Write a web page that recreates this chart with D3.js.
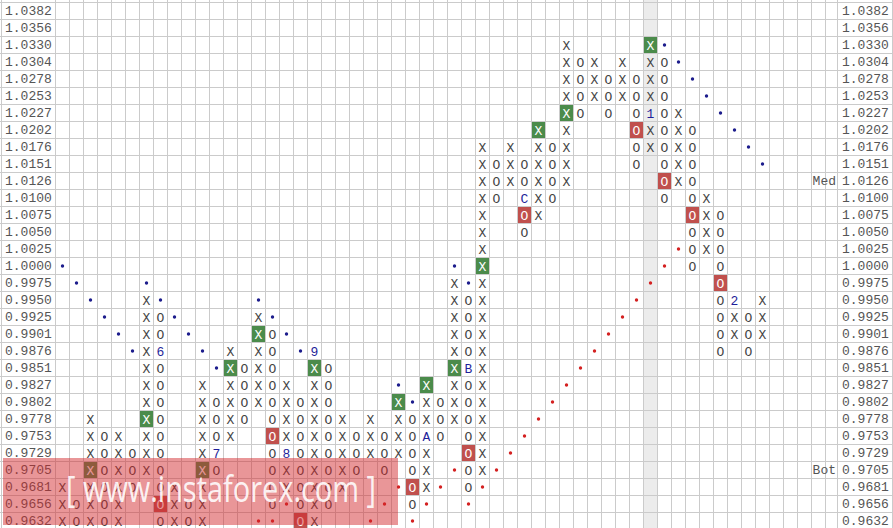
<!DOCTYPE html>
<html><head><meta charset="utf-8">
<script src="https://cdn.jsdelivr.net/npm/d3@7"></script>
<style>html,body{margin:0;padding:0;background:#fff;overflow:hidden}</style>
</head><body>
<svg id="c" width="893" height="528"></svg>
<script>
// ---- data ----
const priceLevels = ["1.0382","1.0356","1.0330","1.0304","1.0278","1.0253","1.0227","1.0202","1.0176","1.0151",
  "1.0126","1.0100","1.0075","1.0050","1.0025","1.0000","0.9975","0.9950","0.9925","0.9901",
  "0.9876","0.9851","0.9827","0.9802","0.9778","0.9753","0.9729","0.9705","0.9681","0.9656","0.9632"];
const colType = "XOXOXOXOXOXOXOXOXOXOXOXOXOXOXOXOXOXOXOXOXOXOXOXOXOX".split("");
const colHigh = ["0.9681","0.9656","0.9778","0.9753","0.9753","0.9729","0.9950","0.9925","0.9681","0.9656",
  "0.9827","0.9802","0.9876","0.9851","0.9925","0.9901","0.9827","0.9802","0.9876","0.9851",
  "0.9778","0.9753","0.9778","0.9753","0.9802","0.9778","0.9827","0.9802","0.9975","0.9950",
  "1.0176","1.0151","1.0176","1.0151","1.0202","1.0176","1.0330","1.0304","1.0304","1.0278",
  "1.0304","1.0278","1.0330","1.0304","1.0227","1.0202","1.0100","1.0075","0.9950","0.9925","0.9950"];
const colLow = ["0.9632","0.9632","0.9632","0.9632","0.9632","0.9681","0.9705","0.9632","0.9632","0.9632",
  "0.9632","0.9705","0.9753","0.9778","0.9802","0.9656","0.9681","0.9632","0.9632","0.9656",
  "0.9681","0.9705","0.9729","0.9705","0.9729","0.9656","0.9681","0.9753","0.9778","0.9681",
  "0.9705","1.0100","1.0126","1.0050","1.0075","1.0100","1.0126","1.0227","1.0253","1.0227",
  "1.0253","1.0151","1.0176","1.0100","1.0126","1.0000","1.0025","0.9876","0.9901","0.9876","0.9901"];
const monthLabels = ["6","7","8","9","A","B","C","1","2"];
const monthCols   = [7,11,16,18,26,29,33,42,48];
const monthPrices = ["0.9876","0.9729","0.9729","0.9876","0.9753","0.9851","1.0100","1.0227","0.9950"];
const buyCols   = [2,6,10,12,14,18,24,26,28,30,34,36,42];
const buyPrices = ["0.9705","0.9778","0.9705","0.9851","0.9901","0.9851","0.9802","0.9827","0.9851","1.0000","1.0202","1.0227","1.0330"];
const sellCols   = [7,15,17,25,29,33,41,43,45,47];
const sellPrices = ["0.9656","0.9753","0.9632","0.9681","0.9729","1.0075","1.0202","1.0126","1.0075","0.9975"];
const resistCols   = [0,1,2,3,4,5,6,7,8,9,10,11,14,15,16,17,24,25,28,29,43,44,45,46,47,48,49,50];
const resistPrices = ["1.0000","0.9975","0.9950","0.9925","0.9901","0.9876","0.9975","0.9950","0.9925","0.9901","0.9876","0.9851",
  "0.9950","0.9925","0.9901","0.9876","0.9827","0.9802","1.0000","0.9975",
  "1.0330","1.0304","1.0278","1.0253","1.0227","1.0202","1.0176","1.0151"];
const supportCols   = [14,15,16,22,23,24,25,26,27,28,29,30,31,32,33,34,35,36,37,38,39,40,41,42,43,44];
const supportPrices = ["0.9632","0.9632","0.9656","0.9632","0.9656","0.9681","0.9632","0.9656","0.9681","0.9705",
  "0.9656","0.9681","0.9705","0.9729","0.9753","0.9778","0.9802","0.9827","0.9851","0.9876",
  "0.9901","0.9925","0.9950","0.9975","1.0000","1.0025"];
const sideLabels = ["Med","Bot"];
const sidePrices = ["1.0126","0.9705"];
const highlightCol = 42;
const watermarkText = "[ www.instaforex.com ]";

// ---- layout ----
const W = 893, H = 528;
const gridLeft = 55, cellW = 14, nCols = 56, gridRight = 837;
const gridTop = 2, cellH = 17;
const svg = d3.select("#c");
const x = d3.scaleBand().domain(d3.range(nCols)).range([gridLeft, gridLeft + nCols * cellW]);
const y = d3.scaleBand().domain(priceLevels).range([gridTop, gridTop + priceLevels.length * cellH]);
const mono = "'Liberation Mono','Courier New',monospace";

svg.append("rect").attr("width", W).attr("height", H).attr("fill", "#fff");
// highlighted column
svg.append("rect").attr("x", x(highlightCol)).attr("y", 0).attr("width", x.bandwidth()).attr("height", H).attr("fill", "#ececec");

// build cells
const idx = p => priceLevels.indexOf(p);
const cells = [];
colType.forEach((t, c) => {
  for (let r = idx(colHigh[c]); r <= idx(colLow[c]); r++) cells.push({c, p: priceLevels[r], t});
});
const key = (c, p) => c + "|" + p;
const monthMap = new Map(monthCols.map((c, i) => [key(c, monthPrices[i]), monthLabels[i]]));
const buySet = new Set(buyCols.map((c, i) => key(c, buyPrices[i])));
const sellSet = new Set(sellCols.map((c, i) => key(c, sellPrices[i])));

// coloured boxes
svg.append("g").selectAll("rect").data(buyCols.map((c, i) => ({c, p: buyPrices[i]}))).join("rect")
  .attr("x", d => x(d.c)).attr("y", d => y(d.p)).attr("width", x.bandwidth()).attr("height", y.bandwidth())
  .attr("fill", "#4b8b4b");
svg.append("g").selectAll("rect").data(sellCols.map((c, i) => ({c, p: sellPrices[i]}))).join("rect")
  .attr("x", d => x(d.c)).attr("y", d => y(d.p)).attr("width", x.bandwidth()).attr("height", y.bandwidth())
  .attr("fill", "#c0504d");

// grid
const g = svg.append("g").attr("stroke", "#cbcbcb").attr("stroke-width", 1).attr("shape-rendering", "crispEdges");
d3.range(priceLevels.length + 1).forEach(i => {
  const yy = gridTop + i * cellH;
  g.append("line").attr("x1", 0).attr("x2", W).attr("y1", yy + 0.5).attr("y2", yy + 0.5);
});
d3.range(nCols).forEach(k => {
  const xx = x(k);
  if (xx < gridRight) g.append("line").attr("x1", xx + 0.5).attr("x2", xx + 0.5).attr("y1", 0).attr("y2", H);
});
[1, gridRight, W - 1].forEach(xx => g.append("line").attr("x1", xx + 0.5).attr("x2", xx + 0.5).attr("y1", 0).attr("y2", H));

// price labels
const lab = svg.append("g").attr("font-family", mono).attr("font-size", 13).attr("fill", "#555");
lab.selectAll("text.l").data(priceLevels).join("text").attr("class", "l")
  .attr("x", 5).attr("y", d => y(d) + y.bandwidth() / 2).attr("dy", "0.35em").text(d => d);
lab.selectAll("text.r").data(priceLevels).join("text").attr("class", "r")
  .attr("x", 842).attr("y", d => y(d) + y.bandwidth() / 2).attr("dy", "0.35em").text(d => d);
lab.selectAll("text.s").data(sideLabels).join("text").attr("class", "s")
  .attr("x", 836).attr("text-anchor", "end")
  .attr("y", (d, i) => y(sidePrices[i]) + y.bandwidth() / 2).attr("dy", "0.35em").text(d => d);

// X / O marks
svg.append("g").attr("font-family", mono).attr("font-size", 13).attr("text-anchor", "middle")
  .selectAll("text").data(cells).join("text")
  .attr("x", d => x(d.c) + x.bandwidth() / 2 + 0.5)
  .attr("y", d => y(d.p) + y.bandwidth() / 2 + 0.5).attr("dy", "0.35em")
  .attr("fill", d => {
    const k = key(d.c, d.p);
    if (buySet.has(k) || sellSet.has(k)) return "#fff";
    if (monthMap.has(k)) return "#1f1f9a";
    return "#444";
  })
  .text(d => monthMap.get(key(d.c, d.p)) || d.t);

// trend-line dots
svg.append("g").selectAll("circle").data(resistCols.map((c, i) => ({c, p: resistPrices[i]}))).join("circle")
  .attr("cx", d => x(d.c) + x.bandwidth() / 2 + 0.5).attr("cy", d => y(d.p) + y.bandwidth() / 2 + 0.5)
  .attr("r", 1.7).attr("fill", "#1c1c8c");
svg.append("g").selectAll("circle").data(supportCols.map((c, i) => ({c, p: supportPrices[i]}))).join("circle")
  .attr("cx", d => x(d.c) + x.bandwidth() / 2 + 0.5).attr("cy", d => y(d.p) + y.bandwidth() / 2 + 0.5)
  .attr("r", 1.7).attr("fill", "#d42020");

// watermark
svg.append("rect").attr("x", 3).attr("y", 458).attr("width", 395).attr("height", 67)
  .attr("fill", "rgb(210,40,44)").attr("fill-opacity", 0.49);
svg.append("text").attr("x", 66).attr("y", 502).attr("font-family", "'Open Sans','Noto Sans',sans-serif")
  .attr("font-size", 37).attr("fill", "#fff").attr("fill-opacity", 0.9)
  .attr("textLength", 310).attr("lengthAdjust", "spacingAndGlyphs").text(watermarkText);
</script>
</body></html>
